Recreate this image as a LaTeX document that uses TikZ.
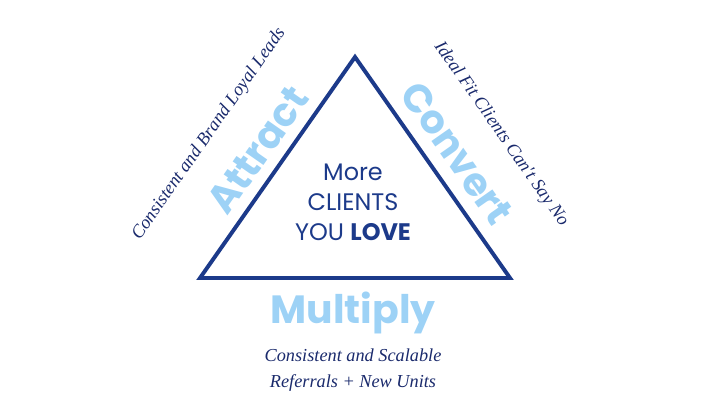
\documentclass[tikz,border=0pt]{standalone}
\usepackage{fontspec}
\setmainfont{Poppins}
\newfontfamily\handfont{Liberation Serif}
\definecolor{navy}{HTML}{1C3A8A}
\definecolor{inkblue}{HTML}{1A2A6C}
\definecolor{skyblue}{HTML}{9DD2F6}
\tikzset{
  sideword/.style={text=skyblue, font=\fontsize{28}{30}\selectfont\bfseries, inner sep=0pt},
  handnote/.style={text=inkblue, font=\handfont\itshape\fontsize{13}{18}\selectfont, inner sep=0pt, align=center},
  centerline/.style={text=navy, font=\fontsize{17}{20}\selectfont, inner sep=0pt}
}
\begin{document}
\begin{tikzpicture}[x=0.025cm, y=-0.025cm]
    \useasboundingbox (0,0) rectangle (720,412);
    % triangle
    \coordinate (top) at (355,57);
    \coordinate (left) at (200,278);
    \coordinate (right) at (510,278);
    \draw[navy, line width=2.8pt, line join=miter] (top) -- (left) -- (right) -- cycle;
    % centre text
    \node[centerline] (more) at (353,172) {More};
    \node[centerline] (clients) at (353,202) {CLIENTS};
    \node[centerline] (love) at (353,232) {YOU \textbf{LOVE}};
    % side words
    \node[sideword, rotate=55] (attract) at (258,150) {Attract};
    \node[sideword, rotate=-55] (convert) at (457,153) {Convert};
    \node[sideword] (multiply) at (353,313) {Multiply};
    % notes
    \node[handnote, rotate=55] (leads) at (209,134) {Consistent and Brand Loyal Leads};
    \node[handnote, rotate=-55] (fit) at (501,134) {Ideal Fit Clients Can't Say No};
    \node[handnote] (referrals) at (353,370) {Consistent and Scalable\\Referrals + New Units};
\end{tikzpicture}
\end{document}
